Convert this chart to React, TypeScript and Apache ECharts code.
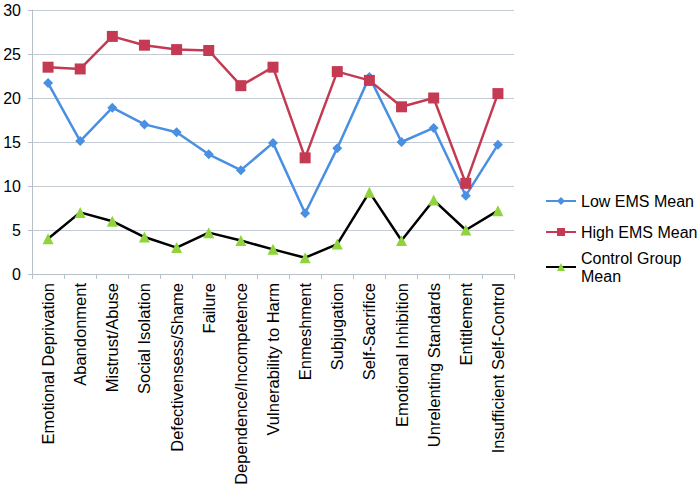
import React, { useEffect, useRef } from "react";
import * as echarts from "echarts";

const categories = [
  "Emotional Deprivation",
  "Abandonment",
  "Mistrust/Abuse",
  "Social Isolation",
  "Defectivensess/Shame",
  "Failure",
  "Dependence/Incompetence",
  "Vulnerability to Harm",
  "Enmeshment",
  "Subjugation",
  "Self-Sacrifice",
  "Emotional Inhibition",
  "Unrelenting Standards",
  "Entitlement",
  "Insufficient Self-Control",
];

const lowEMS = [21.7, 15.1, 18.9, 17.0, 16.1, 13.6, 11.8, 14.9, 6.9, 14.3, 22.4, 15.0, 16.6, 8.9, 14.7];
const highEMS = [23.5, 23.3, 27.0, 26.0, 25.5, 25.4, 21.4, 23.5, 13.2, 23.0, 22.0, 19.0, 20.0, 10.3, 20.5];
const controlMean = [4.0, 7.0, 6.0, 4.2, 3.0, 4.7, 3.8, 2.8, 1.85, 3.4, 9.3, 3.8, 8.4, 5.0, 7.2];

const FONT = "'Liberation Sans', Arial, sans-serif";

export default function App() {
  const ref = useRef<HTMLDivElement>(null);
  useEffect(() => {
    if (!ref.current) return;
    const chart = echarts.init(ref.current, undefined, { renderer: "svg" });
    const legendText = { fontSize: 16, color: "#000", fontFamily: FONT, lineHeight: 18 };
    chart.setOption({
      animation: false,
      backgroundColor: "#ffffff",
      textStyle: { fontFamily: FONT },
      grid: { left: 32, top: 10, right: 184, bottom: 215, containLabel: false },
      legend: [
        {
          orient: "vertical",
          left: 540,
          top: 187,
          itemWidth: 30,
          itemHeight: 10,
          itemGap: 13,
          textStyle: legendText,
          data: ["Low EMS Mean", "High EMS Mean"],
        },
        {
          orient: "vertical",
          left: 540,
          top: 235,
          itemWidth: 30,
          itemHeight: 10,
          textStyle: { ...legendText, padding: [18, 0, 0, 0] },
          formatter: () => "Control Group\nMean",
          data: ["Control Group Mean"],
        },
      ],
      xAxis: {
        type: "category",
        data: categories,
        boundaryGap: true,
        axisLine: { lineStyle: { color: "#b8c0c8", width: 1 } },
        axisTick: { show: true, length: 5, lineStyle: { color: "#b8c0c8" } },
        axisLabel: {
          rotate: 90,
          interval: 0,
          fontSize: 16.5,
          color: "#000",
          fontFamily: FONT,
          margin: 9,
        },
      },
      yAxis: {
        type: "value",
        min: 0,
        max: 30,
        interval: 5,
        axisLine: { show: true, lineStyle: { color: "#b8c0c8" } },
        axisTick: { show: true, length: 4, lineStyle: { color: "#b8c0c8" } },
        splitLine: { lineStyle: { color: "#c4cbd2", width: 1 } },
        axisLabel: { fontSize: 16, color: "#000", fontFamily: FONT, margin: 11 },
      },
      series: [
        {
          name: "Low EMS Mean",
          type: "line",
          data: lowEMS,
          color: "#4a90e2",
          lineStyle: { width: 2.5, color: "#4a90e2" },
          symbol: "diamond",
          symbolSize: 10,
          itemStyle: { color: "#4a90e2" },
        },
        {
          name: "High EMS Mean",
          type: "line",
          data: highEMS,
          color: "#c43a52",
          lineStyle: { width: 2.5, color: "#c43a52" },
          symbol: "rect",
          symbolSize: 11,
          itemStyle: { color: "#c43a52" },
        },
        {
          name: "Control Group Mean",
          type: "line",
          data: controlMean,
          color: "#000000",
          lineStyle: { width: 2.5, color: "#000000" },
          symbol: "triangle",
          symbolSize: 11,
          itemStyle: { color: "#8fd43a" },
        },
      ],
    });
    return () => chart.dispose();
  }, []);
  return (
    <div
      ref={ref}
      style={{ position: "absolute", left: 0, top: 0, width: 698, height: 489 }}
    />
  );
}
